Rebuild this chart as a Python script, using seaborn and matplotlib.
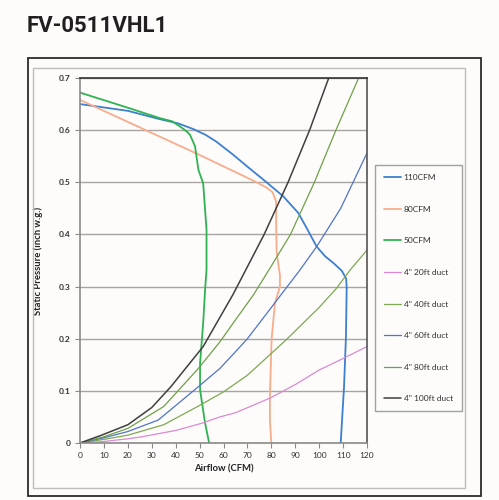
import numpy as np
import pandas as pd
import matplotlib
matplotlib.use("Agg")
import matplotlib.pyplot as plt
import seaborn as sns
from matplotlib.patches import Rectangle

# fan curves
fan110_x = [0, 20, 33.4, 41, 47.4, 52.5, 57, 64, 70, 78, 85, 91.3, 94.8, 98.9, 102.5, 106, 109.5, 111.3, 111.5, 111.2, 110.4, 109]
fan110_y = [0.650, 0.637, 0.621, 0.613, 0.602, 0.591, 0.578, 0.553, 0.530, 0.500, 0.473, 0.441, 0.412, 0.377, 0.358, 0.345, 0.330, 0.315, 0.297, 0.204, 0.108, 0]

fan80_x = [0, 50.2, 72.5, 78, 80.5, 82, 82, 82.2, 83, 83.6, 83.6, 81.5, 80.1, 79.4, 79.4, 80]
fan80_y = [0.658, 0.552, 0.503, 0.490, 0.481, 0.463, 0.425, 0.367, 0.340, 0.322, 0.300, 0.268, 0.198, 0.089, 0.044, 0]

fan50_x = [0, 20, 33.4, 38.5, 41.8, 44.5, 46, 48.1, 49.5, 51.5, 52.9, 52.9, 52.3, 51.5, 50.2, 50.2, 52.3, 54]
fan50_y = [0.672, 0.643, 0.623, 0.617, 0.607, 0.598, 0.591, 0.569, 0.524, 0.498, 0.409, 0.332, 0.294, 0.230, 0.153, 0.102, 0.038, 0]

# duct curves
duct20_x = [0, 10, 20, 26, 40, 51, 58.5, 65, 79.4, 90, 100, 110, 120]
duct20_y = [0, 0.003, 0.008, 0.012, 0.024, 0.038, 0.050, 0.058, 0.086, 0.112, 0.140, 0.162, 0.185]

duct40_x = [0, 10, 20, 35, 50, 60, 70, 86, 100, 107.3, 113, 120]
duct40_y = [0, 0.007, 0.015, 0.035, 0.072, 0.098, 0.130, 0.197, 0.260, 0.297, 0.332, 0.370]

duct60_x = [0, 10, 20, 32.7, 49.5, 58.5, 65, 70, 84, 92, 99, 109, 120]
duct60_y = [0, 0.010, 0.022, 0.044, 0.108, 0.143, 0.175, 0.200, 0.284, 0.332, 0.377, 0.450, 0.556]

duct80_x = [0, 10, 20, 35, 49.5, 58.5, 65, 72.5, 79, 88, 98, 107, 116.5]
duct80_y = [0, 0.012, 0.028, 0.070, 0.143, 0.194, 0.236, 0.284, 0.332, 0.400, 0.500, 0.600, 0.700]

duct100_x = [0, 9, 20, 30, 38, 51.5, 64, 77, 87, 96, 104]
duct100_y = [0, 0.015, 0.035, 0.068, 0.108, 0.185, 0.285, 0.400, 0.500, 0.600, 0.700]

labels = ["110CFM", "80CFM", "50CFM", '4" 20ft duct', '4" 40ft duct',
          '4" 60ft duct', '4" 80ft duct', '4" 100ft duct']
series_x = [fan110_x, fan80_x, fan50_x, duct20_x, duct40_x, duct60_x, duct80_x, duct100_x]
series_y = [fan110_y, fan80_y, fan50_y, duct20_y, duct40_y, duct60_y, duct80_y, duct100_y]
colors = ["#3d7fd0", "#f7ad8c", "#2fb352", "#d98ad2", "#7fa852",
          "#4f74c6", "#6fa048", "#3f3f3f"]
widths = [1.3, 1.3, 1.3, 0.9, 0.9, 0.9, 0.9, 1.1]

sns.set_theme(style="white")
plt.rcParams['font.family'] = ['Lato', 'DejaVu Sans']

W, H = 499, 500
fig = plt.figure(figsize=(W / 100, H / 100), dpi=100)
fig.patch.set_facecolor("#fdfcfb")

# outer frames
fig.patches.append(Rectangle((28 / W, 1 - 496 / H), (481 - 28) / W, (496 - 58) / H,
                             transform=fig.transFigure, fill=False, ec="#2b2b2b", lw=1.3))
fig.patches.append(Rectangle((33 / W, 1 - 488 / H), (465 - 33) / W, (488 - 68) / H,
                             transform=fig.transFigure, fill=False, ec="#bdbdbd", lw=1.0))

fig.text(27 / W, 1 - 32 / H, "FV-0511VHL1", fontsize=16, fontweight="bold",
         color="#231f20", family=["Roboto", "DejaVu Sans"], va="baseline")

ax = fig.add_axes([80 / W, 1 - 443 / H, 287 / W, 365 / H])
ax.set_facecolor("#fdfcfb")

for xs, ys, lab, c, w in zip(series_x, series_y, labels, colors, widths):
    sns.lineplot(x=xs, y=ys, sort=False, estimator=None, color=c, lw=w,
                 label=lab, ax=ax)

ax.set_xlim(0, 120)
ax.set_ylim(0, 0.7)
ax.set_xticks(np.arange(0, 121, 10))
ax.set_yticks(np.arange(0, 0.71, 0.1))
ax.set_yticklabels(["0", "0.1", "0.2", "0.3", "0.4", "0.5", "0.6", "0.7"])
ax.yaxis.grid(True, color="#a8a4a0", lw=1.0)
ax.set_axisbelow(True)
ax.tick_params(axis="both", which="both", direction="out", length=3.5, width=0.8,
               color="#8a8a8a", labelsize=6, labelcolor="#303030", pad=3,
               bottom=True, left=True)
for lab in ax.get_yticklabels():
    lab.set_fontweight("bold")
ax.spines["left"].set_color("#8a8a8a")
ax.spines["bottom"].set_color("#8a8a8a")
ax.spines["top"].set_color("#333333")
ax.spines["right"].set_color("#555555")
for s in ax.spines.values():
    s.set_linewidth(1.2)

ax.set_xlabel("Airflow (CFM)", fontsize=6.8, fontweight="bold", color="#222222", labelpad=4)
ax.set_ylabel("Static Pressure (inch w.g.)", fontsize=6.8, fontweight="bold",
              color="#222222", labelpad=12)

leg = ax.legend(loc="upper left", bbox_to_anchor=(375 / W, 1 - 165 / H),
                bbox_transform=fig.transFigure, borderaxespad=0, fontsize=6,
                handlelength=2.0, handletextpad=0.35, labelspacing=2.95,
                borderpad=1.1, frameon=True, fancybox=False)
leg.get_frame().set_edgecolor("#8a8a8a")
leg.get_frame().set_linewidth(1.0)
leg.get_frame().set_facecolor("#fdfcfb")
for t in leg.get_texts():
    t.set_color("#303030")

fig.savefig("out.png", dpi=100, facecolor=fig.get_facecolor())
